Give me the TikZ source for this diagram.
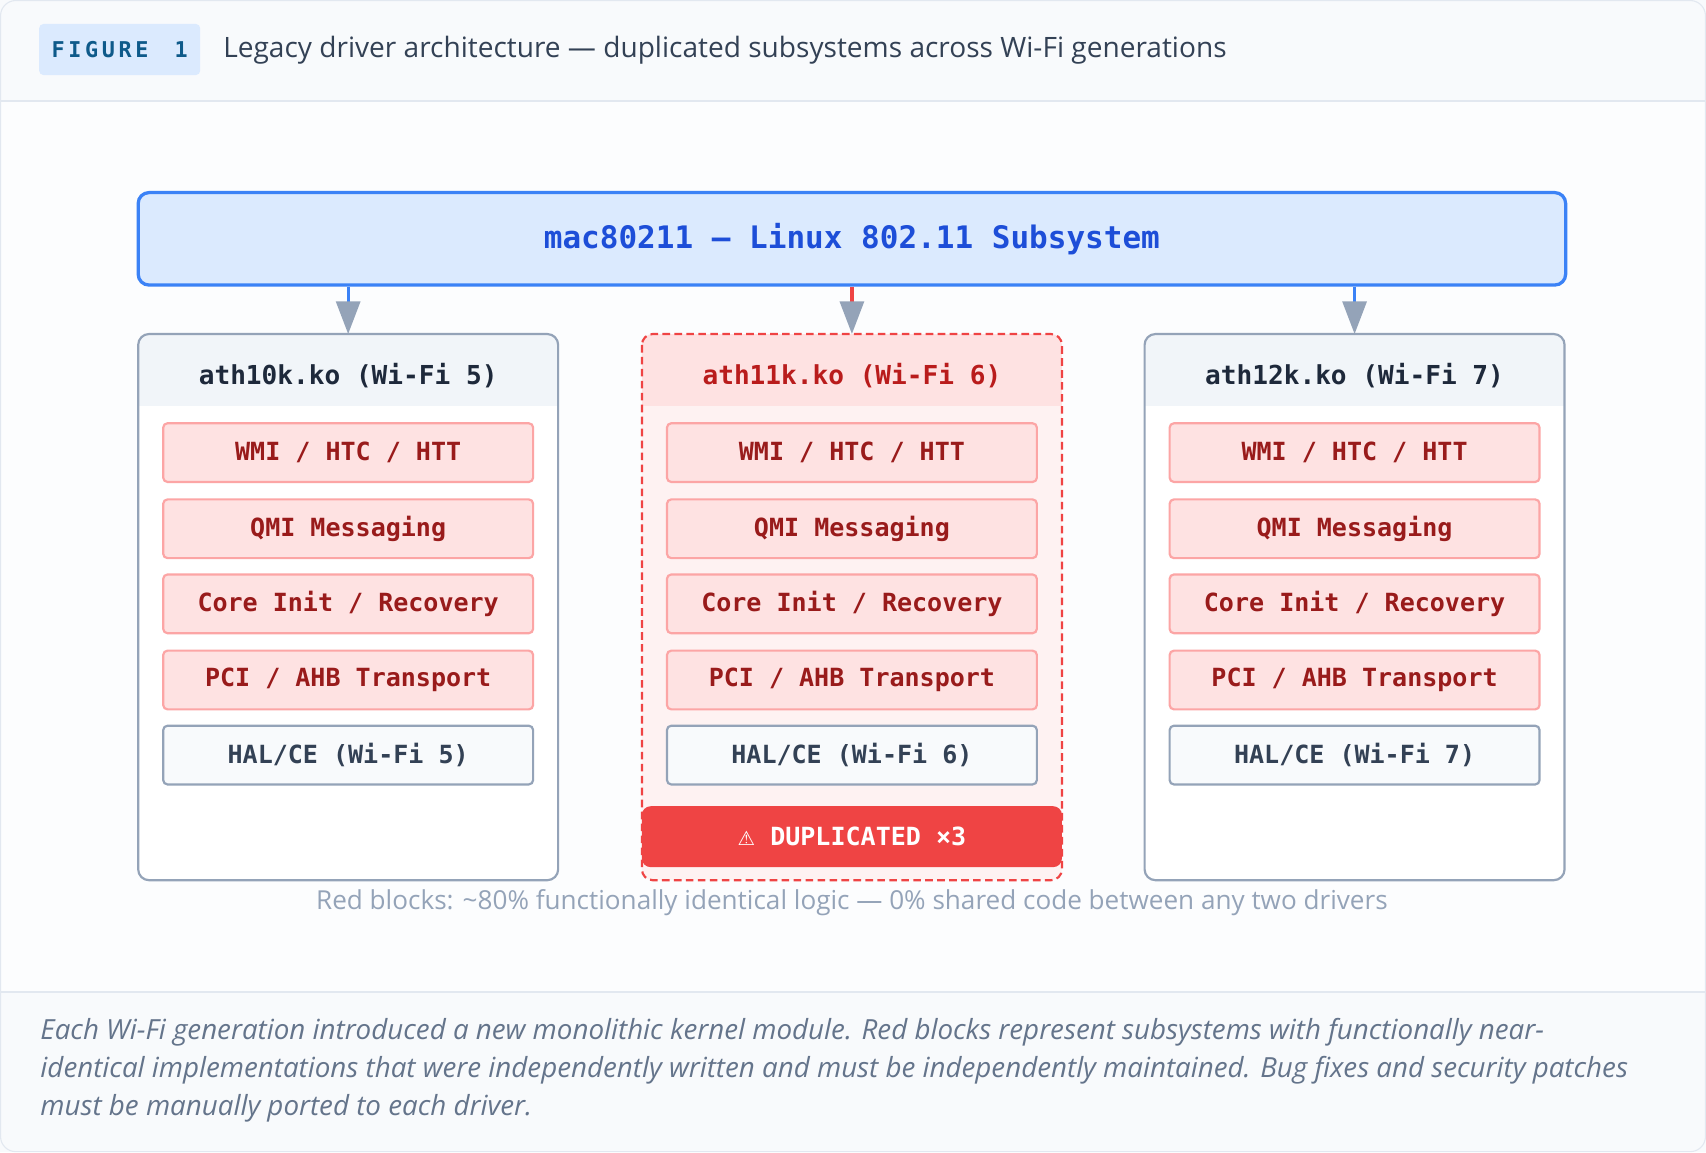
\documentclass[tikz,border=0pt]{standalone}
\usetikzlibrary{arrows.meta}
\usepackage{fontspec}
\setmainfont{Open Sans}
\newfontfamily\monof{DejaVu Sans Mono}
\newfontfamily\djv{DejaVu Sans}
\definecolor{bgA}{HTML}{F8FAFC}
\definecolor{bgB}{HTML}{FCFDFE}
\definecolor{lineG}{HTML}{E2E8F0}
\definecolor{slateB}{HTML}{94A3B8}
\definecolor{darkT}{HTML}{1E293B}
\definecolor{midT}{HTML}{334155}
\definecolor{capT}{HTML}{64748B}
\definecolor{blueF}{HTML}{DBEAFE}
\definecolor{blueB}{HTML}{3B82F6}
\definecolor{blueT}{HTML}{1D4ED8}
\definecolor{redF}{HTML}{FEE2E2}
\definecolor{redB}{HTML}{FCA5A5}
\definecolor{redT}{HTML}{991B1B}
\definecolor{redD}{HTML}{EF4444}
\definecolor{redH}{HTML}{B91C1C}
\definecolor{hdrG}{HTML}{F1F5F9}
\definecolor{figT}{HTML}{0E5A8A}
\begin{document}
\begin{tikzpicture}[x=1pt,y=-1pt,
  blk/.style={draw=redB,fill=redF,line width=2pt,rounded corners=4pt,minimum width=340pt,minimum height=54pt,inner sep=0pt,font=\monof\bfseries\fontsize{23}{26}\selectfont,text=redT},
  hal/.style={blk,draw=slateB,fill=bgA,text=midT},
  arr/.style={line width=3pt,-{Triangle[width=22pt,length=30pt,fill=slateB,color=slateB]}}]
\useasboundingbox (0,0) rectangle (1568,1059);
\fill[bgB] (0,0) rectangle (1568,1059);
\fill[bgA] (0,0) rectangle (1568,93);
\fill[bgA] (0,912) rectangle (1568,1059);
\draw[lineG,line width=1.5pt] (0,93) -- (1568,93);
\draw[lineG,line width=1.5pt] (0,912) -- (1568,912);
\draw[lineG,line width=1pt,rounded corners=14pt] (0.5,0.5) rectangle (1567.5,1058.5);
% header
\node[fill=blueF,rounded corners=4pt,minimum width=148pt,minimum height=47pt,inner sep=0pt,text=figT,font=\monof\bfseries\fontsize{20}{22}\selectfont] (fig) at (110,45.5) {F\,I\,G\,U\,R\,E\ \ 1};
\node[anchor=west,text=midT,font=\fontsize{25.8}{30}\selectfont,inner sep=0pt] (title) at (205,46) {Legacy driver architecture — duplicated subsystems across Wi-Fi generations};
% mac80211
\node[draw=blueB,fill=blueF,line width=3pt,rounded corners=10pt,minimum width=1312pt,minimum height=85pt,inner sep=0pt,text=blueT,font=\monof\bfseries\fontsize{28.5}{32}\selectfont] (mac) at (783,219.5) {\raisebox{-3pt}{mac80211 — Linux 802.11 Subsystem}};
% driver boxes
\foreach \cx/\nm in {320/d1,1245/d3}{
  \fill[white,rounded corners=10pt] (\cx-193,307) rectangle (\cx+193,809);
  \fill[hdrG,rounded corners=10pt] (\cx-193,307) rectangle (\cx+193,340);
  \fill[hdrG] (\cx-193,330) rectangle (\cx+193,373);
  \draw[slateB,line width=2pt,rounded corners=10pt] (\cx-193,307) rectangle (\cx+193,809);
  \coordinate (\nm) at (\cx,307);
}
\fill[redF!45,rounded corners=10pt] (590,307) rectangle (976,809);
\fill[redF,rounded corners=10pt] (590,307) rectangle (976,340);
\fill[redF] (590,330) rectangle (976,373);
\draw[redD,line width=2pt,dash pattern=on 7pt off 4pt,rounded corners=10pt] (590,307) rectangle (976,809);
\coordinate (d2) at (783,307);
\node[text=darkT,font=\monof\bfseries\fontsize{24}{28}\selectfont] (h1) at (320,345) {ath10k.ko (Wi-Fi 5)};
\node[text=redH,font=\monof\bfseries\fontsize{24}{28}\selectfont] (h2) at (783,345) {ath11k.ko (Wi-Fi 6)};
\node[text=darkT,font=\monof\bfseries\fontsize{24}{28}\selectfont] (h3) at (1245,345) {ath12k.ko (Wi-Fi 7)};
\foreach \cx/\g in {320/5,783/6,1245/7}{
  \node[blk] at (\cx,416) {\raisebox{-3pt}{WMI / HTC / HTT}};
  \node[blk] at (\cx,486) {\raisebox{-3pt}{QMI Messaging}};
  \node[blk] at (\cx,555) {\raisebox{-3pt}{Core Init / Recovery}};
  \node[blk] at (\cx,625) {\raisebox{-3pt}{PCI / AHB Transport}};
  \node[hal] at (\cx,694) {\raisebox{-2pt}{HAL/CE (Wi-Fi \g)}};
}
\node[fill=redD,rounded corners=8pt,minimum width=386pt,minimum height=56pt,inner sep=0pt,text=white,font=\monof\bfseries\fontsize{23}{26}\selectfont] (dup) at (783,769) {\raisebox{-2pt}{{\djv\fontsize{18}{20}\selectfont ⚠}\ DUPLICATED ×3}};
% arrows
\draw[arr,blueB] (mac.south -| d1) -- (d1);
\draw[arr,redD] (mac.south -| d2) -- (d2);
\draw[arr,blueB] (mac.south -| d3) -- (d3);
\node[text=slateB,font=\fontsize{24}{26}\selectfont] (note) at (783,830) {Red blocks: \textasciitilde80\% functionally identical logic — 0\% shared code between any two drivers};
\node[anchor=north west,text=capT,align=left,font=\itshape\fontsize{25.5}{35}\selectfont,inner sep=0pt] (cap) at (37,936) {Each Wi-Fi generation introduced a new monolithic kernel module. Red blocks represent subsystems with functionally near-\\identical implementations that were independently written and must be independently maintained. Bug fixes and security patches\\must be manually ported to each driver.};
\end{tikzpicture}
\end{document}
